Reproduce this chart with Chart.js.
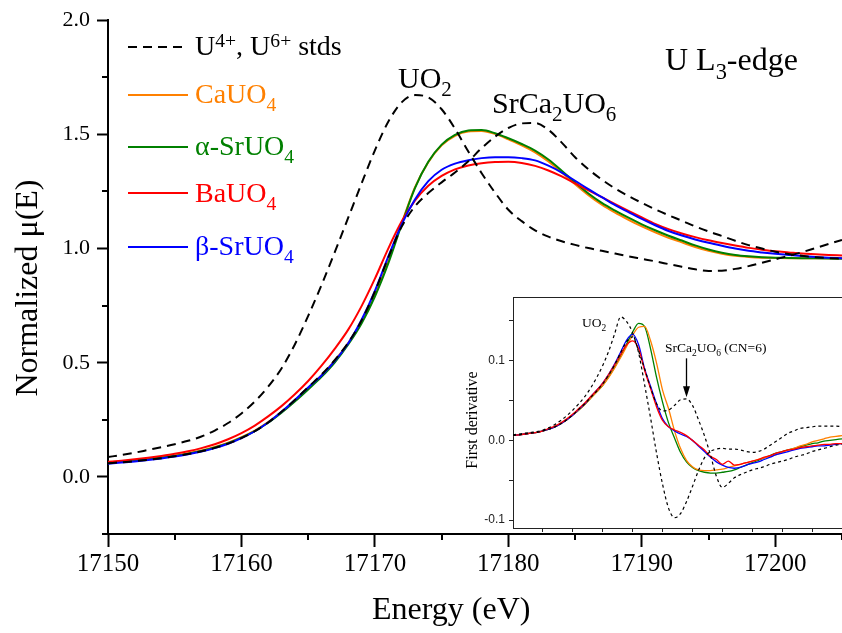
<!DOCTYPE html>
<html><head><meta charset="utf-8">
<script src="https://cdn.jsdelivr.net/npm/chart.js@4.4.1/dist/chart.umd.min.js"></script>
<style>
html,body{margin:0;padding:0;background:#fff;}
#wrap{position:relative;width:842px;height:633px;overflow:hidden;font-family:"Liberation Serif","Times New Roman",serif;color:#000;}
canvas{position:absolute;}
#main{left:0;top:0;}
#inset{left:440px;top:285px;}
.t{position:absolute;white-space:nowrap;line-height:1;}
.t sub{font-size:0.7em;line-height:0;vertical-align:-0.4em;}
.t sup{font-size:0.7em;line-height:0;vertical-align:0.4em;}
.rot{transform-origin:50% 50%;transform:rotate(-90deg);text-align:center;}
</style>
</head><body>
<div id="wrap">
<canvas id="main" width="842" height="633"></canvas>
<canvas id="inset" width="402" height="260"></canvas>
<svg width="842" height="633" style="position:absolute;left:0;top:0;pointer-events:none">
  <line x1="128" y1="47" x2="188" y2="47" stroke="#000" stroke-width="2" stroke-dasharray="9 6"/>
  <line x1="128" y1="95" x2="188" y2="95" stroke="rgb(255,128,0)" stroke-width="2"/>
  <line x1="128" y1="147" x2="188" y2="147" stroke="rgb(0,128,0)" stroke-width="2"/>
  <line x1="128" y1="193" x2="188" y2="193" stroke="rgb(255,0,0)" stroke-width="2"/>
  <line x1="128" y1="247" x2="188" y2="247" stroke="rgb(0,0,255)" stroke-width="2"/>
</svg>
<div class="t" style="left:195px;top:31.5px;font-size:28px;">U<sup>4+</sup>, U<sup>6+</sup> stds</div>
<div class="t" style="left:195px;top:79.5px;font-size:28px;color:rgb(255,128,0);">CaUO<sub>4</sub></div>
<div class="t" style="left:195px;top:131.5px;font-size:28px;color:rgb(0,128,0);">α-SrUO<sub>4</sub></div>
<div class="t" style="left:195px;top:178.5px;font-size:28px;color:rgb(255,0,0);">BaUO<sub>4</sub></div>
<div class="t" style="left:195px;top:231.5px;font-size:28px;color:rgb(0,0,255);">β-SrUO<sub>4</sub></div>
<div class="t" style="left:398px;top:63px;font-size:30px;">UO<sub>2</sub></div>
<div class="t" style="left:492px;top:88px;font-size:30px;">SrCa<sub>2</sub>UO<sub>6</sub></div>
<div class="t" style="left:665px;top:43px;font-size:32px;">U L<sub>3</sub>-edge</div>
<div class="t" style="left:372px;top:592px;font-size:32px;">Energy (eV)</div>
<div class="t rot" style="left:-124px;top:272px;width:300px;font-size:32px;">Normalized μ(E)</div>
<div class="t" style="left:582px;top:315.7px;font-size:13.5px;">UO<sub>2</sub></div>
<div class="t" style="left:665px;top:340.7px;font-size:13.5px;">SrCa<sub>2</sub>UO<sub>6</sub> (CN=6)</div>
<div class="t rot" style="left:401.6px;top:412px;width:140px;font-size:16px;">First derivative</div>
</div>
<script>
// ---------- main panel data (Normalized mu(E)) ----------
const energy = [17150,17151,17152,17153,17154,17155,17156,17157,17158,17159,
  17160,17161,17162,17163,17164,17165,17166,17167,17168,17169,
  17170,17171,17172,17173,17174,17175,17176,17177,17178,17179,
  17180,17181,17182,17183,17184,17185,17186,17187,17188,17189,
  17190,17191,17192,17193,17194,17195,17196,17197,17198,17199,
  17200,17201,17202,17203,17204,17205];

const uo2Std = [0.087,0.096,0.106,0.118,0.130,0.143,0.158,0.177,0.203,0.236,
  0.278,0.330,0.395,0.475,0.580,0.705,0.840,0.985,1.135,1.285,
  1.430,1.555,1.640,1.672,1.662,1.610,1.525,1.425,1.330,1.245,
  1.170,1.120,1.080,1.052,1.032,1.016,1.002,0.990,0.978,0.966,
  0.955,0.944,0.932,0.920,0.909,0.902,0.903,0.911,0.923,0.938,
  0.953,0.968,0.984,1.002,1.020,1.038];

const srca2uo6Std = [0.060,0.064,0.069,0.075,0.082,0.090,0.100,0.112,0.127,0.146,
  0.170,0.200,0.238,0.285,0.337,0.393,0.448,0.512,0.588,0.685,
  0.812,0.960,1.095,1.185,1.243,1.290,1.333,1.382,1.440,1.490,
  1.528,1.548,1.550,1.520,1.464,1.400,1.347,1.302,1.263,1.230,
  1.200,1.172,1.146,1.122,1.097,1.075,1.055,1.034,1.015,1.000,
  0.986,0.976,0.968,0.962,0.958,0.955];

const cauo4 = [0.064,0.068,0.073,0.079,0.086,0.094,0.104,0.116,0.131,0.150,
  0.174,0.203,0.240,0.284,0.334,0.388,0.445,0.510,0.586,0.678,
  0.798,0.945,1.110,1.268,1.378,1.452,1.494,1.513,1.515,1.502,
  1.478,1.452,1.421,1.381,1.333,1.282,1.234,1.192,1.157,1.126,
  1.097,1.071,1.047,1.027,1.007,0.990,0.977,0.968,0.963,0.960,
  0.959,0.958,0.958,0.958,0.958,0.958];

const alphaSrUO4 = [0.062,0.066,0.071,0.077,0.084,0.092,0.102,0.114,0.129,0.148,
  0.172,0.201,0.237,0.281,0.330,0.383,0.438,0.502,0.580,0.672,
  0.790,0.935,1.105,1.265,1.380,1.455,1.498,1.517,1.519,1.505,
  1.483,1.458,1.429,1.390,1.341,1.289,1.241,1.200,1.166,1.135,
  1.106,1.080,1.056,1.035,1.014,0.996,0.982,0.972,0.966,0.962,
  0.960,0.959,0.958,0.957,0.956,0.955];

const bauo4 = [0.066,0.071,0.077,0.084,0.092,0.101,0.112,0.126,0.143,0.165,
  0.192,0.225,0.265,0.310,0.362,0.420,0.487,0.562,0.645,0.748,
  0.868,1.000,1.118,1.210,1.275,1.318,1.347,1.364,1.374,1.379,
  1.380,1.375,1.362,1.342,1.316,1.285,1.255,1.225,1.195,1.165,
  1.136,1.108,1.085,1.066,1.050,1.036,1.024,1.013,1.003,0.995,
  0.988,0.983,0.978,0.975,0.972,0.970];

const betaSrUO4 = [0.058,0.063,0.068,0.074,0.081,0.089,0.099,0.111,0.126,0.145,
  0.170,0.200,0.238,0.285,0.337,0.392,0.444,0.508,0.585,0.688,
  0.815,0.965,1.105,1.215,1.295,1.345,1.372,1.387,1.396,1.400,
  1.400,1.396,1.386,1.363,1.333,1.297,1.260,1.225,1.190,1.160,
  1.130,1.102,1.077,1.057,1.040,1.025,1.012,1.000,0.990,0.983,
  0.977,0.972,0.967,0.963,0.960,0.958];

const xMajorTicks = [17150,17160,17170,17180,17190,17200];
const xMinorTicks = [17155,17165,17175,17185,17195,17205];
const yMajorTicks = [0,0.5,1.0,1.5,2.0];
const yMinorTicks = [-0.25,0.25,0.75,1.25,1.75];

// ---------- inset data (first derivative) ----------
const dUO2 = [0.007,0.008,0.009,0.010,0.011,0.013,0.016,0.020,0.025,0.031,
  0.038,0.046,0.055,0.066,0.079,0.094,0.112,0.134,0.155,0.149,
  0.135,0.110,0.070,0.028,-0.016,-0.055,-0.085,-0.097,-0.092,-0.077,
  -0.058,-0.038,-0.022,-0.014,-0.011,-0.010,-0.011,-0.011,-0.012,-0.014,
  -0.015,-0.014,-0.011,-0.006,-0.001,0.004,0.009,0.012,0.015,0.016,
  0.017,0.018,0.018,0.018,0.018,0.017];

const dSrCa2UO6 = [0.006,0.007,0.008,0.009,0.010,0.012,0.014,0.017,0.021,0.026,
  0.032,0.039,0.046,0.054,0.062,0.071,0.082,0.095,0.110,0.124,
  0.130,0.112,0.090,0.066,0.046,0.037,0.038,0.044,0.051,0.052,
  0.044,0.026,0.006,-0.018,-0.045,-0.059,-0.054,-0.047,-0.043,-0.040,
  -0.037,-0.035,-0.033,-0.030,-0.028,-0.026,-0.024,-0.021,-0.019,-0.017,
  -0.014,-0.012,-0.010,-0.008,-0.006,-0.005];

const dCaUO4 = [0.006,0.007,0.008,0.009,0.010,0.012,0.014,0.017,0.021,0.026,
  0.032,0.038,0.045,0.053,0.061,0.069,0.079,0.091,0.104,0.118,
  0.132,0.142,0.143,0.125,0.097,0.063,0.040,0.012,-0.010,-0.025,
  -0.033,-0.037,-0.038,-0.038,-0.037,-0.036,-0.034,-0.032,-0.030,-0.028,
  -0.026,-0.024,-0.022,-0.020,-0.018,-0.015,-0.012,-0.010,-0.007,-0.005,
  -0.002,0.000,0.002,0.004,0.005,0.006];

const dAlphaSrUO4 = [0.006,0.007,0.008,0.009,0.010,0.012,0.014,0.017,0.021,0.026,
  0.032,0.038,0.045,0.053,0.061,0.069,0.080,0.092,0.106,0.121,
  0.136,0.147,0.143,0.115,0.079,0.048,0.022,0.003,-0.015,-0.027,
  -0.034,-0.038,-0.040,-0.041,-0.041,-0.040,-0.039,-0.037,-0.034,-0.031,
  -0.028,-0.025,-0.022,-0.019,-0.016,-0.014,-0.012,-0.010,-0.008,-0.006,
  -0.004,-0.003,-0.001,0.000,0.001,0.002];

const dBaUO4 = [0.006,0.007,0.008,0.009,0.010,0.012,0.015,0.018,0.022,0.027,
  0.033,0.040,0.047,0.055,0.063,0.072,0.083,0.095,0.108,0.120,
  0.125,0.115,0.088,0.065,0.042,0.025,0.017,0.013,0.010,0.006,
  0.000,-0.006,-0.012,-0.020,-0.024,-0.030,-0.026,-0.031,-0.030,-0.028,
  -0.026,-0.024,-0.021,-0.019,-0.016,-0.014,-0.012,-0.011,-0.009,-0.008,
  -0.007,-0.006,-0.005,-0.005,-0.004,-0.004];

const dBetaSrUO4 = [0.006,0.007,0.008,0.009,0.010,0.012,0.014,0.017,0.021,0.026,
  0.032,0.039,0.046,0.055,0.063,0.072,0.083,0.096,0.111,0.126,
  0.133,0.120,0.090,0.068,0.046,0.027,0.017,0.012,0.008,0.005,
  0.000,-0.007,-0.014,-0.021,-0.027,-0.031,-0.034,-0.035,-0.034,-0.031,
  -0.029,-0.027,-0.024,-0.021,-0.018,-0.016,-0.014,-0.012,-0.010,-0.009,
  -0.008,-0.007,-0.007,-0.006,-0.005,-0.004];

const insetXTicks = [17155,17160,17165,17170,17175,17180,17185,17190,17195,17200,17205];
const insetYTicks = [-0.1,-0.05,0,0.05,0.1,0.15];
const insetYLabels = [-0.1,0,0.1];
const arrowEnergy = 17178.9, arrowFrom = 0.103, arrowTo = 0.054;

// ---------- colours ----------
const C_ORANGE = 'rgb(255,128,0)', C_GREEN = 'rgb(0,128,0)', C_RED = 'rgb(255,0,0)', C_BLUE = 'rgb(0,0,255)';

function pts(ys){ return energy.map((e,i)=>({x:e,y:ys[i]})); }

function ds(label, ys, color, opts){
  return Object.assign({label, data: pts(ys), borderColor: color, backgroundColor: color,
    borderWidth: 2, pointRadius: 0, fill: false, cubicInterpolationMode: 'monotone'}, opts||{});
}

const minorTicksPlugin = {
  id: 'minorTicks',
  afterDraw(chart){
    const {ctx, chartArea: a, scales: {x, y}} = chart;
    ctx.save();
    ctx.strokeStyle = '#000'; ctx.lineWidth = 2;
    ctx.beginPath();
    xMinorTicks.forEach(v => { const p = Math.round(x.getPixelForValue(v)); ctx.moveTo(p, a.bottom); ctx.lineTo(p, a.bottom + 6); });
    yMinorTicks.forEach(v => { const p = Math.round(y.getPixelForValue(v)); ctx.moveTo(a.left, p); ctx.lineTo(a.left - 6, p); });
    ctx.stroke();
    ctx.restore();
  }
};

new Chart(document.getElementById('main'), {
  type: 'line',
  data: { datasets: [
    ds('U4+ std (UO2)', uo2Std, '#000', {borderDash: [9,6], order: 0}),
    ds('U6+ std (SrCa2UO6)', srca2uo6Std, '#000', {borderDash: [9,6], order: 0}),
    ds('CaUO4', cauo4, C_ORANGE, {order: 4}),
    ds('α-SrUO4', alphaSrUO4, C_GREEN, {order: 3}),
    ds('BaUO4', bauo4, C_RED, {order: 2}),
    ds('β-SrUO4', betaSrUO4, C_BLUE, {order: 1})
  ]},
  options: {
    responsive: false, animation: false, devicePixelRatio: 1,
    layout: { padding: {top: 19, right: 0, left: 0, bottom: 0}, autoPadding: false },
    plugins: { legend: {display: false}, tooltip: {enabled: false} },
    scales: {
      x: {
        type: 'linear', min: 17150, max: 17205,
        afterBuildTicks: s => { s.ticks = xMajorTicks.map(v => ({value: v})); },
        afterFit: s => { s.height = 99; },
        border: {display: true, color: '#000', width: 2},
        grid: {display: true, drawOnChartArea: false, drawTicks: true, tickLength: 13, tickWidth: 2, tickColor: '#000'},
        ticks: {font: {family: 'Liberation Serif', size: 25}, color: '#000', padding: 2, maxRotation: 0, autoSkip: false,
                callback: v => String(v)}
      },
      y: {
        type: 'linear', min: -0.25, max: 2.0,
        afterBuildTicks: s => { s.ticks = yMajorTicks.map(v => ({value: v})); },
        afterFit: s => { s.width = 108; },
        border: {display: true, color: '#000', width: 2},
        grid: {display: true, drawOnChartArea: false, drawTicks: true, tickLength: 11, tickWidth: 2, tickColor: '#000'},
        ticks: {font: {family: 'Liberation Serif', size: 22}, color: '#000', padding: 7,
                callback: v => Number(v).toFixed(1)}
      }
    }
  },
  plugins: [minorTicksPlugin]
});

// ---------- inset ----------
function ids(label, ys, color, opts){
  return Object.assign({label, data: pts(ys), borderColor: color, backgroundColor: color,
    borderWidth: 1.3, pointRadius: 0, fill: false, cubicInterpolationMode: 'monotone'}, opts||{});
}

const insetDecor = {
  id: 'insetDecor',
  afterDraw(chart){
    const {ctx, chartArea: a, scales: {x, y}} = chart;
    ctx.save();
    ctx.strokeStyle = '#222'; ctx.lineWidth = 1;
    ctx.beginPath(); ctx.moveTo(a.left, a.top + 0.5); ctx.lineTo(a.right, a.top + 0.5); ctx.stroke();
    const ax = Math.round(x.getPixelForValue(arrowEnergy)) + 0.5;
    const y1 = y.getPixelForValue(arrowFrom), y2 = y.getPixelForValue(arrowTo);
    ctx.strokeStyle = '#000'; ctx.fillStyle = '#000'; ctx.lineWidth = 1.3;
    ctx.beginPath(); ctx.moveTo(ax, y1); ctx.lineTo(ax, y2 - 8); ctx.stroke();
    ctx.beginPath(); ctx.moveTo(ax - 3.5, y2 - 11); ctx.lineTo(ax + 3.5, y2 - 11); ctx.lineTo(ax, y2); ctx.closePath(); ctx.fill();
    ctx.restore();
  }
};

new Chart(document.getElementById('inset'), {
  type: 'line',
  data: { datasets: [
    ids('UO2', dUO2, '#000', {borderDash: [3,3], borderWidth: 1.2, order: 0}),
    ids('SrCa2UO6 (CN=6)', dSrCa2UO6, '#000', {borderDash: [3,3], borderWidth: 1.2, order: 0}),
    ids('CaUO4', dCaUO4, C_ORANGE, {order: 3}),
    ids('α-SrUO4', dAlphaSrUO4, C_GREEN, {order: 4}),
    ids('BaUO4', dBaUO4, C_RED, {order: 1}),
    ids('β-SrUO4', dBetaSrUO4, C_BLUE, {order: 2})
  ]},
  options: {
    responsive: false, animation: false, devicePixelRatio: 1,
    layout: { padding: {top: 12, right: 0, left: 0, bottom: 0}, autoPadding: false },
    plugins: { legend: {display: false}, tooltip: {enabled: false} },
    scales: {
      x: {
        type: 'linear', min: 17150, max: 17205,
        afterBuildTicks: s => { s.ticks = insetXTicks.map(v => ({value: v})); },
        afterFit: s => { s.height = 17; },
        border: {display: true, color: '#222', width: 1},
        grid: {display: true, drawOnChartArea: false, drawTicks: true, tickLength: 4, tickWidth: 1, tickColor: '#222'},
        ticks: {display: false}
      },
      y: {
        type: 'linear', min: -0.11, max: 0.18,
        afterBuildTicks: s => { s.ticks = insetYTicks.map(v => ({value: v})); },
        afterFit: s => { s.width = 73; },
        border: {display: true, color: '#222', width: 1},
        grid: {display: true, drawOnChartArea: false, drawTicks: true, tickLength: 4, tickWidth: 1, tickColor: '#222'},
        ticks: {font: {family: 'Liberation Sans', size: 12}, color: '#222', padding: 4,
                callback: v => insetYLabels.some(l => Math.abs(l - v) < 1e-9) ? Number(v).toFixed(1) : ''}
      }
    }
  },
  plugins: [insetDecor]
});
</script>
</body></html>
